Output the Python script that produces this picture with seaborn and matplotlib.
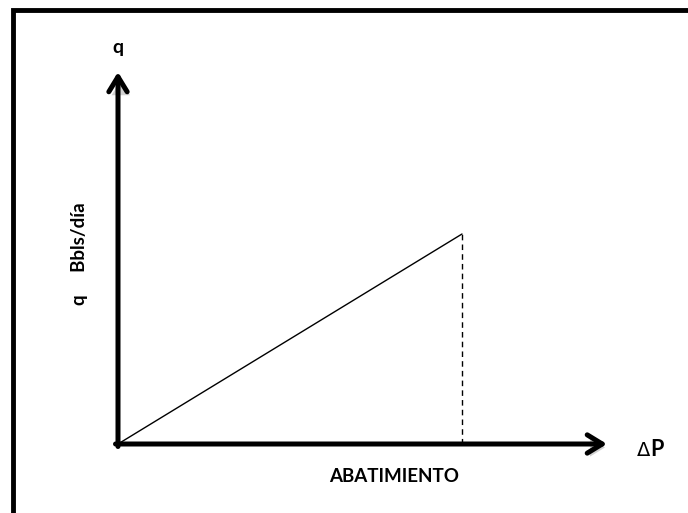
import matplotlib
matplotlib.use("Agg")
import matplotlib.pyplot as plt
import matplotlib.patheffects as pe
import seaborn as sns
import pandas as pd
from matplotlib.patches import Rectangle

sns.set_theme(style="white")
plt.rcParams['font.family'] = ['Lato', 'DejaVu Sans']

# Data (conceptual: q vs drawdown, straight line)
delta_p = [0, 10]
q_vals = [0, 6.0]
dp_end = 10
q_end = 6.0

W, H = 688, 513
fig = plt.figure(figsize=(W / 100, H / 100), dpi=100)
ax = fig.add_axes([0, 0, 1, 1])

# pixel mapping: origin at (118, 444), line end at (462, 234)
x0_px, y0_px = 118, 444
sx = (462 - 118) / dp_end
sy = (444 - 234) / q_end
ax.set_xlim(-x0_px / sx, (W - x0_px) / sx)
ax.set_ylim(-(H - y0_px) / sy, y0_px / sy)
ax.axis('off')

df = pd.DataFrame({'dp': delta_p, 'q': q_vals})
sns.lineplot(data=df, x='dp', y='q', ax=ax, color='black', linewidth=1.0)

ax.vlines(dp_end, 0, q_end, colors='black', linestyles=(0, (4, 3)), linewidth=1.0)

def px2d(px, py):
    return ((px - x0_px) / sx, (y0_px - py) / sy)

shadow = [pe.SimplePatchShadow(offset=(2, -2.5), shadow_rgbFace='black', alpha=0.18), pe.Normal()]

# axes arrows
lw = 3.6
ax.annotate('', xy=px2d(118, 72), xytext=px2d(118, 446.5),
            arrowprops=dict(arrowstyle='->,head_length=0.9,head_width=0.55', color='black',
                            lw=lw, shrinkA=0, shrinkB=0, path_effects=shadow))
ax.annotate('', xy=px2d(607, 444), xytext=px2d(115.5, 444),
            arrowprops=dict(arrowstyle='->,head_length=0.9,head_width=0.55', color='black',
                            lw=lw, shrinkA=0, shrinkB=0, path_effects=shadow))

# labels
ax.text(*px2d(118, 47), 'q', ha='center', va='center', fontsize=14, fontweight='bold', color='black')
ax.text(*px2d(79, 254), 'q     Bbls/día', ha='center', va='center', rotation=90,
        fontsize=13.5, fontweight='bold', color='black')
ax.text(*px2d(650, 450), 'Δ', ha='right', va='center', fontsize=14,
        color='black', family=['DejaVu Sans'])
ax.text(*px2d(650, 450), 'P', ha='left', va='center', fontsize=15.5,
        fontweight='bold', color='black')
ax.text(*px2d(394, 477), 'ABATIMIENTO', ha='center', va='center', fontsize=13.5,
        fontweight='bold', color='black')

# outer frame
fig.patches.append(Rectangle((12.5 / W, -0.05), 1.2, (H - 10) / H + 0.05, transform=fig.transFigure,
                             fill=False, edgecolor='black', linewidth=3.5))

fig.savefig('out.png', dpi=100)
